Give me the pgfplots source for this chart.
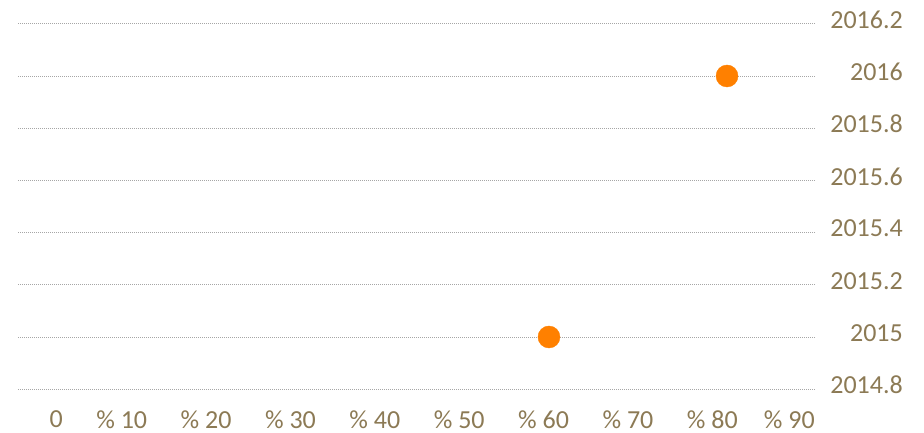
\documentclass[border=0pt]{standalone}
\usepackage{fontspec}
\setmainfont{Carlito}
\usepackage{pgfplots}
\pgfplotsset{compat=1.18}
\definecolor{lbl}{RGB}{140,122,85}
\definecolor{dot}{RGB}{255,128,0}
\begin{document}
\begin{tikzpicture}[x=1pt,y=1pt]
\useasboundingbox (0,0) rectangle (924,433);
\begin{axis}[
  at={(18pt,43.8pt)}, anchor=south west,
  scale only axis, width=797pt, height=365.4pt,
  xmin=-5.333, xmax=89.13, ymin=2014.8, ymax=2016.2,
  axis line style={draw=none},
  major tick length=0pt,
  ymajorgrids,
  grid style={black!35, line width=0.9pt, dash pattern=on 0.9pt off 1.1pt},
  ytick={2014.8,2015,2015.2,2015.4,2015.6,2015.8,2016,2016.2},
  yticklabels={2014.8,2015,2015.2,2015.4,2015.6,2015.8,2016,2016.2},
  yticklabel pos=right,
  yticklabel style={anchor=east, inner sep=0pt, xshift=88pt, yshift=4pt,
    font=\fontsize{26}{30}\selectfont, text=lbl},
  xtick={0,10,20,30,40,50,60,70,80,89.13},
  xticklabels={0,\% 10,\% 20,\% 30,\% 40,\% 50,\% 60,\% 70,\% 80,\% 90},
  xticklabel style={anchor=north east, inner sep=0pt, yshift=-21pt,
    font=\fontsize{26}{30}\selectfont, text=lbl},
  clip=false,
]
\addplot[only marks, mark=*, mark size=11pt, color=dot, draw=none] coordinates {(57.6,2015) (78.7,2016)};
\end{axis}
\end{tikzpicture}
\end{document}
